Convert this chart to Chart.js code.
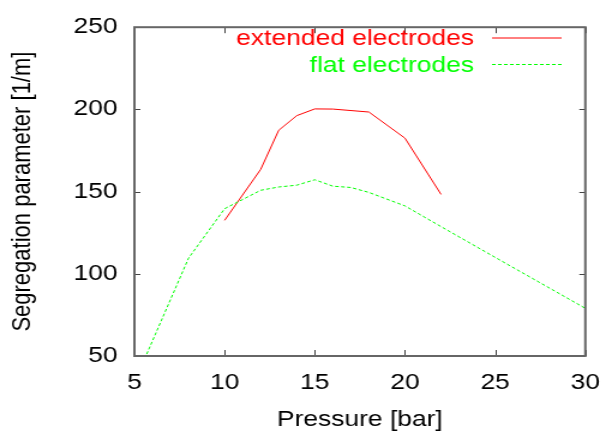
<!DOCTYPE html>
<html>
<head>
<meta charset="utf-8">
<script src="https://cdn.jsdelivr.net/npm/chart.js@4"></script>
<style>
  html, body { margin: 0; padding: 0; background: #fff; overflow: hidden; }
  /* the plot is drawn narrow and widened, so the lettering comes out broad */
  #wrap { width: 514px; height: 441px; transform: scale(1.2, 1); transform-origin: 0 0; }
</style>
</head>
<body>
<div id="wrap"><canvas id="c" width="514" height="441"></canvas></div>
<script>
const pressureExtended = [10, 12, 13, 14, 15, 16, 18, 20, 22];
const segExtended = [132.5, 163.5, 187.3, 196.2, 200.3, 200.2, 198.4, 182.5, 148.3];
const pressureFlat = [5, 8, 10, 12, 13, 14, 15, 16, 17, 18, 20, 22, 25, 30];
const segFlat = [34, 109.5, 139.6, 150.8, 152.8, 153.9, 157.2, 153.3, 152.5, 149.5, 141.3, 128.7, 110, 79];
const seriesLabels = ["extended electrodes", "flat electrodes"];
const seriesColors = ["#ff0000", "#00ff00"];
const xTicks = [5, 10, 15, 20, 25, 30];
const yTicks = [50, 100, 150, 200, 250];

const family = "'Liberation Sans', Arial, Helvetica, sans-serif";
const font = { family: family, size: 22 };

const toPoints = (xs, ys) => xs.map((x, i) => ({ x: x, y: ys[i] }));

// box border with inward ticks on every side, plus the key in the top right
const frame = {
  id: 'frame',
  afterDatasetsDraw(chart) {
    const { ctx, chartArea: a, scales: { x, y } } = chart;
    ctx.save();
    ctx.strokeStyle = '#444';
    ctx.lineWidth = 1;
    ctx.beginPath();
    x.ticks.forEach(t => {
      const px = Math.round(x.getPixelForValue(t.value)) + 0.5;
      ctx.moveTo(px, a.bottom); ctx.lineTo(px, a.bottom - 6);
      ctx.moveTo(px, a.top); ctx.lineTo(px, a.top + 6);
    });
    y.ticks.forEach(t => {
      const py = Math.round(y.getPixelForValue(t.value)) + 0.5;
      ctx.moveTo(a.left, py); ctx.lineTo(a.left + 5, py);
      ctx.moveTo(a.right, py); ctx.lineTo(a.right - 5, py);
    });
    ctx.stroke();
    ctx.strokeStyle = '#666';
    ctx.lineWidth = 2;
    ctx.strokeRect(a.left, a.top, a.right - a.left, a.bottom - a.top);
    ctx.restore();
  },
  afterDraw(chart) {
    const ctx = chart.ctx;
    ctx.save();
    ctx.font = '22px ' + family;
    ctx.textAlign = 'right';
    ctx.textBaseline = 'middle';
    chart.data.datasets.forEach((ds, i) => {
      const row = i * 26.5;
      ctx.fillStyle = ds.borderColor;
      ctx.fillText(ds.label, 395, 39 + row);
      ctx.strokeStyle = ds.borderColor;
      ctx.lineWidth = 1;
      ctx.setLineDash(ds.borderDash || []);
      ctx.beginPath();
      ctx.moveTo(410, 38 + row);
      ctx.lineTo(468, 38 + row);
      ctx.stroke();
    });
    ctx.restore();
  }
};

new Chart(document.getElementById('c'), {
  type: 'scatter',
  data: {
    datasets: [
      {
        label: seriesLabels[0],
        data: toPoints(pressureExtended, segExtended),
        borderColor: seriesColors[0],
        borderWidth: 1,
        showLine: true,
        pointRadius: 0,
        clip: 0,
        order: 1
      },
      {
        label: seriesLabels[1],
        data: toPoints(pressureFlat, segFlat),
        borderColor: seriesColors[1],
        borderWidth: 1,
        borderDash: [3, 2],
        showLine: true,
        pointRadius: 0,
        clip: 0,
        order: 0
      }
    ]
  },
  options: {
    responsive: false,
    animation: false,
    devicePixelRatio: 1,
    layout: { padding: { left: 0, top: 19, right: 19, bottom: 0 } },
    plugins: { legend: { display: false }, tooltip: { enabled: false } },
    scales: {
      x: {
        type: 'linear',
        min: 5,
        max: 30,
        grid: { display: false, drawTicks: false },
        border: { display: false },
        ticks: { font: font, color: '#000', padding: 14, maxRotation: 0 },
        title: { display: true, text: 'Pressure [bar]', font: font, color: '#000', padding: { top: 0, bottom: 8 } },
        afterBuildTicks: s => { s.ticks = xTicks.map(v => ({ value: v })); },
        afterFit: s => { s.height = 85; }
      },
      y: {
        type: 'linear',
        min: 50,
        max: 250,
        grid: { display: false, drawTicks: false },
        border: { display: false },
        ticks: { font: font, color: '#000', padding: 14 },
        title: { display: true, text: 'Segregation parameter [1/m]', font: font, color: '#000', padding: { top: 6, bottom: 0 } },
        afterBuildTicks: s => { s.ticks = yTicks.map(v => ({ value: v })); },
        afterFit: s => { s.width = 112; }
      }
    }
  },
  plugins: [frame]
});
</script>
</body>
</html>
